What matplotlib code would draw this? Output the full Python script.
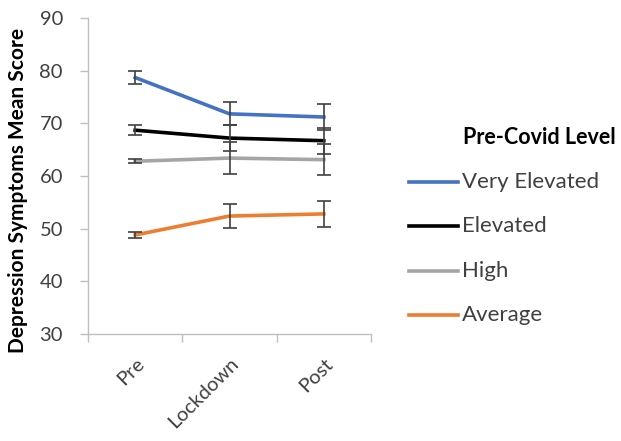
import matplotlib
matplotlib.use("Agg")
import matplotlib.pyplot as plt
from matplotlib.lines import Line2D
import numpy as np

plt.rcParams['font.family'] = ['Lato', 'DejaVu Sans']

categories = ["Pre", "Lockdown", "Post"]
series_names = ["Very Elevated", "Elevated", "High", "Average"]
very_elevated = [78.7, 71.8, 71.2]
very_elevated_err = [1.2, 2.2, 2.4]
elevated = [68.7, 67.2, 66.7]
elevated_err = [1.0, 2.4, 2.5]
high = [62.8, 63.4, 63.1]
high_err = [0.4, 3.0, 3.0]
average = [48.8, 52.4, 52.8]
average_err = [0.6, 2.3, 2.5]

colors = ["#4472C4", "#000000", "#A5A5A5", "#ED7D31"]
values = [very_elevated, elevated, high, average]
errs = [very_elevated_err, elevated_err, high_err, average_err]

W, H = 621, 441
fig = plt.figure(figsize=(W / 100, H / 100), dpi=100)
ax = fig.add_axes([88 / W, 1 - 334 / H, (371 - 88) / W, (334 - 18) / H])

x = np.arange(len(categories))
for v, c in zip(values, colors):
    ax.plot(x, v, color=c, lw=2.6, zorder=3)
for v, e in zip(values, errs):
    ax.errorbar(x, v, yerr=e, fmt='none', ecolor='#404040', elinewidth=1.2,
                capsize=5, capthick=1.2, zorder=4)

ax.set_xlim(-0.5, 2.5)
ax.set_ylim(30, 90)
ax.set_yticks(range(30, 91, 10))
ax.set_xticks(x)
ax.set_xticklabels(categories, rotation=45, ha='right', rotation_mode='anchor',
                   fontsize=14.5, color='#404040')
ax.set_xticks([-0.5, 0.5, 1.5, 2.5], minor=True)
ax.tick_params(axis='x', which='major', length=0, pad=15)
ax.tick_params(axis='x', which='minor', length=6, color='#BFBFBF', width=1)
ax.tick_params(axis='y', length=6, color='#BFBFBF', width=1, labelsize=14.5,
               labelcolor='#404040', pad=12)
for s in ['top', 'right']:
    ax.spines[s].set_visible(False)
for s in ['left', 'bottom']:
    ax.spines[s].set_color('#BFBFBF')
    ax.spines[s].set_linewidth(1)
ax.set_ylabel("Depression Symptoms Mean Score", fontsize=15, fontweight='bold',
              color='black')
ax.yaxis.set_label_coords(28 / W, 1 - 190 / H, transform=fig.transFigure)

# Legend (drawn in figure pixel coordinates)
def fx(px):
    return px / W

def fy(py):
    return 1 - py / H

fig.text(fx(463), fy(137), "Pre-Covid Level", fontsize=15.5, fontweight='bold',
         color='black', va='center', ha='left')
for i, (name, c) in enumerate(zip(series_names, colors)):
    yy = 182 + 44.3 * i
    fig.add_artist(Line2D([fx(409), fx(458)], [fy(yy), fy(yy)], color=c, lw=2.6,
                          transform=fig.transFigure))
    fig.text(fx(462), fy(yy), name, fontsize=16, color='#404040',
             va='center', ha='left')

fig.savefig("out.png", dpi=100)
